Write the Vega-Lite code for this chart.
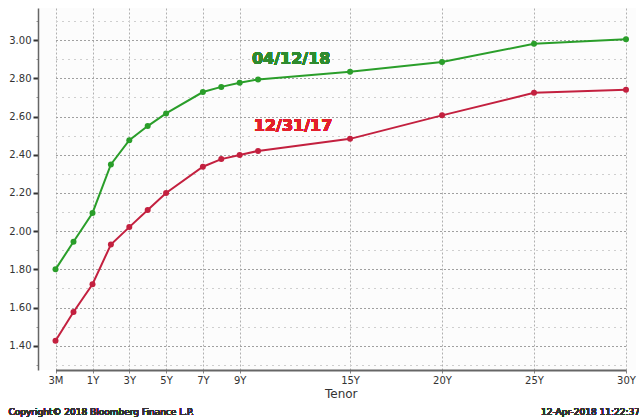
{
  "$schema": "https://vega.github.io/schema/vega-lite/v6.json",
  "autosize": {"type": "none"},
  "width": 598,
  "height": 362,
  "padding": {"left": 38, "top": 8, "right": 3, "bottom": 48},
  "background": "#ffffff",
  "config": {
    "view": {"stroke": null, "fill": "#fcfcfc"},
    "font": "DejaVu Sans"
  },
  "data": {
    "values": [
      {"series": "04/12/18", "tenor": 0.25, "yield": 1.80},
      {"series": "04/12/18", "tenor": 0.5, "yield": 1.944},
      {"series": "04/12/18", "tenor": 1, "yield": 2.095},
      {"series": "04/12/18", "tenor": 2, "yield": 2.349},
      {"series": "04/12/18", "tenor": 3, "yield": 2.476},
      {"series": "04/12/18", "tenor": 4, "yield": 2.55},
      {"series": "04/12/18", "tenor": 5, "yield": 2.616},
      {"series": "04/12/18", "tenor": 7, "yield": 2.728},
      {"series": "04/12/18", "tenor": 8, "yield": 2.755},
      {"series": "04/12/18", "tenor": 9, "yield": 2.777},
      {"series": "04/12/18", "tenor": 10, "yield": 2.794},
      {"series": "04/12/18", "tenor": 15, "yield": 2.834},
      {"series": "04/12/18", "tenor": 20, "yield": 2.885},
      {"series": "04/12/18", "tenor": 25, "yield": 2.981},
      {"series": "04/12/18", "tenor": 30, "yield": 3.005},
      {"series": "12/31/17", "tenor": 0.25, "yield": 1.426},
      {"series": "12/31/17", "tenor": 0.5, "yield": 1.577},
      {"series": "12/31/17", "tenor": 1, "yield": 1.722},
      {"series": "12/31/17", "tenor": 2, "yield": 1.93},
      {"series": "12/31/17", "tenor": 3, "yield": 2.021},
      {"series": "12/31/17", "tenor": 4, "yield": 2.11},
      {"series": "12/31/17", "tenor": 5, "yield": 2.20},
      {"series": "12/31/17", "tenor": 7, "yield": 2.337},
      {"series": "12/31/17", "tenor": 8, "yield": 2.377},
      {"series": "12/31/17", "tenor": 9, "yield": 2.398},
      {"series": "12/31/17", "tenor": 10, "yield": 2.42},
      {"series": "12/31/17", "tenor": 15, "yield": 2.483},
      {"series": "12/31/17", "tenor": 20, "yield": 2.606},
      {"series": "12/31/17", "tenor": 25, "yield": 2.724},
      {"series": "12/31/17", "tenor": 30, "yield": 2.74}
    ]
  },
  "encoding": {
    "x": {
      "field": "tenor",
      "type": "quantitative",
      "scale": {"domain": [0.25, 0.5, 1, 30], "range": [17.5, 35.5, 54.5, 588]},
      "axis": {
        "values": [0.25, 1, 3, 5, 7, 9, 15, 20, 25, 30],
        "labelExpr": "datum.value < 1 ? '3M' : datum.value + 'Y'",
        "labelFlush": false,
        "title": "Tenor",
        "titleFontSize": 12,
        "titleFontWeight": "normal",
        "titleColor": "#333333",
        "titlePadding": 3,
        "labelFontSize": 10,
        "labelColor": "#333333",
        "labelPadding": 2,
        "tickSize": 3,
        "tickColor": "#888888",
        "domainColor": "#666666",
        "domainWidth": 2,
        "grid": true,
        "gridColor": "#b0b0b0",
        "gridDash": [2, 2],
        "gridWidth": 1
      }
    },
    "y": {
      "field": "yield",
      "type": "quantitative",
      "scale": {"domain": [1.273, 3.168], "nice": false, "zero": false},
      "axis": {
        "values": [1.3, 1.4, 1.5, 1.6, 1.7, 1.8, 1.9, 2.0, 2.1, 2.2, 2.3, 2.4, 2.5, 2.6, 2.7, 2.8, 2.9, 3.0, 3.1],
        "labelExpr": "round(datum.value * 10) % 2 == 0 ? format(datum.value, '.2f') : ''",
        "title": null,
        "labelFontSize": 10,
        "labelColor": "#333333",
        "labelPadding": 2,
        "tickSize": {"condition": {"test": "round(datum.value * 10) % 2 == 0", "value": 5}, "value": 2},
        "tickWidth": {"condition": {"test": "round(datum.value * 10) % 2 == 0", "value": 2}, "value": 1},
        "tickColor": {"condition": {"test": "round(datum.value * 10) % 2 == 0", "value": "#333333"}, "value": "#999999"},
        "domainColor": "#666666",
        "domainWidth": 1.5,
        "grid": true,
        "gridColor": {"condition": {"test": "round(datum.value * 10) % 2 == 0", "value": "#a0a0a0"}, "value": "#cfcfcf"},
        "gridDash": {"condition": {"test": "round(datum.value * 10) % 2 == 0", "value": [2, 2]}, "value": [2, 4]},
        "gridWidth": 1
      }
    },
    "color": {
      "field": "series",
      "type": "nominal",
      "scale": {"domain": ["04/12/18", "12/31/17"], "range": ["#2a9e2a", "#c3203f"]},
      "legend": null
    }
  },
  "layer": [
    {"mark": {"type": "line", "strokeWidth": 2}},
    {"mark": {"type": "point", "filled": true, "size": 36, "opacity": 1}},
    {
      "mark": {"type": "text", "fontSize": 16, "fontWeight": "bold", "align": "center", "baseline": "middle"},
      "encoding": {
        "x": {"datum": 11.8},
        "y": {"datum": 2.90},
        "text": {"value": "04/12/18"},
        "color": {"value": "#2e8b2e"}
      }
    },
    {
      "mark": {"type": "text", "fontSize": 16, "fontWeight": "bold", "align": "center", "baseline": "middle"},
      "encoding": {
        "x": {"datum": 11.9},
        "y": {"datum": 2.55},
        "text": {"value": "12/31/17"},
        "color": {"value": "#e3202a"}
      }
    },
    {
      "mark": {"type": "text", "fontSize": 9, "align": "right", "baseline": "middle", "dx": 14},
      "encoding": {
        "x": {"datum": 30},
        "y": {"datum": 1.052},
        "text": {"value": "12-Apr-2018 11:22:37"},
        "color": {"value": "#333333"}
      }
    },
    {
      "mark": {"type": "text", "fontSize": 9, "align": "left", "baseline": "middle", "dx": -47},
      "encoding": {
        "x": {"datum": 0.25},
        "y": {"datum": 1.052},
        "text": {"value": "Copyright© 2018 Bloomberg Finance L.P."},
        "color": {"value": "#333333"}
      }
    }
  ]
}
